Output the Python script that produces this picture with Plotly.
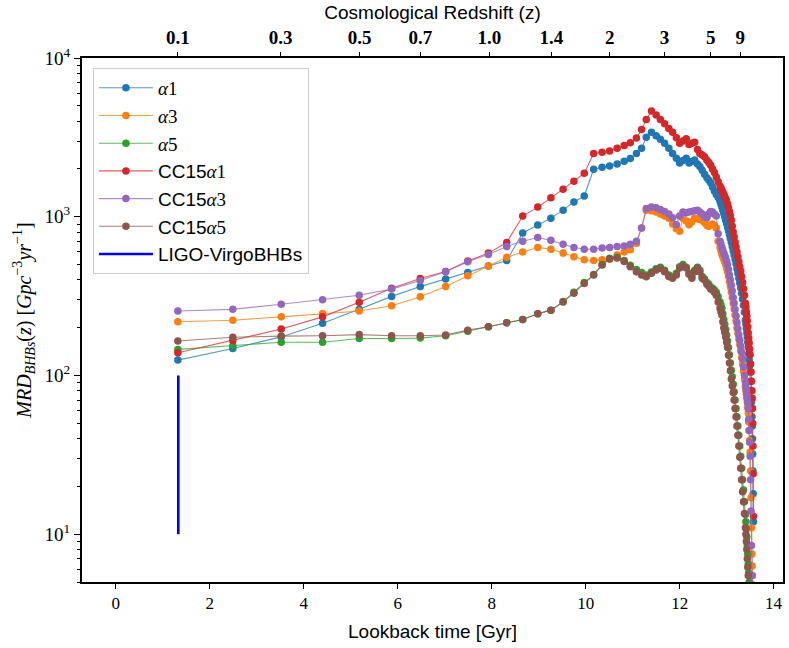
import plotly.graph_objects as go

# Lookback time [Gyr] of each sampled redshift
lookback = [1.32, 2.49, 3.52, 4.40, 5.18, 5.87, 6.48, 7.02, 7.49, 7.93,
            8.32, 8.66, 8.98, 9.26, 9.52, 9.75, 9.97, 10.17, 10.35, 10.51,
            10.67, 10.82, 10.95, 11.08, 11.19, 11.29, 11.40, 11.50, 11.59, 11.68,
            11.77, 11.85, 11.93, 12.00, 12.07, 12.14, 12.20, 12.26, 12.32, 12.38,
            12.43, 12.48, 12.53, 12.58, 12.62, 12.66, 12.70, 12.74, 12.78, 12.82,
            12.86, 12.88, 12.90, 12.92, 12.94, 12.96, 12.98, 13.00, 13.02, 13.04,
            13.06, 13.08, 13.10, 13.12, 13.14, 13.16, 13.18, 13.20, 13.22, 13.24,
            13.26, 13.28, 13.30, 13.32, 13.34, 13.36, 13.38, 13.40, 13.41, 13.42,
            13.43, 13.44, 13.45, 13.46, 13.47, 13.48, 13.49, 13.50, 13.51, 13.52,
            13.53, 13.54, 13.545, 13.55, 13.555, 13.56, 13.565, 13.57]

alpha1 = [125, 148, 175, 213, 261, 315, 363, 405, 445, 490,
          530, 790, 887, 980, 1100, 1240, 1350, 1990, 2050, 2090,
          2150, 2240, 2330, 2500, 2700, 3170, 3400, 3240, 3080, 2900,
          2700, 2500, 2340, 2180, 2260, 2340, 2180, 2230, 2280, 2150,
          2070, 1960, 1850, 1760, 1700, 1640, 1540, 1450, 1380, 1320,
          1250, 1200, 1150, 1100, 1050, 1000, 950, 905, 860, 815,
          770, 730, 690, 650, 610, 575, 540, 505, 470, 440,
          410, 383, 357, 330, 303, 277, 250, 223, 210, 198,
          186, 175, 162, 150, 137, 125, 115, 105, 92, 80,
          68, 55, 48, 40, 32, 25, 18, 12]

alpha3 = [218, 223, 234, 246, 255, 275, 313, 363, 425, 490,
          555, 600, 640, 625, 590, 560, 535, 530, 535, 540,
          575, 600, 620, 680, 850, 1100, 1090, 1070, 1040, 1010,
          980, 900, 840, 810, 980, 940, 890, 930, 980, 970,
          960, 950, 920, 880, 870, 890, 900, 880, 850, 700,
          640, 610, 580, 560, 540, 520, 500, 475, 450, 420,
          390, 362, 335, 310, 285, 262, 240, 220, 200, 185,
          170, 157, 143, 130, 118, 106, 95, 85, 80, 76,
          72, 68, 63, 58, 51, 45, 39, 33, 25, 17,
          11, 7.5, 6.3, 5.5, 4.8, 4, 3.5, 3]

alpha5 = [146, 154, 162, 162, 171, 171, 172, 178, 190, 203,
          215, 225, 245, 258, 292, 335, 385, 432, 500, 548,
          555, 530, 495, 465, 445, 430, 448, 470, 480, 460,
          430, 415, 440, 485, 500, 480, 440, 420, 460, 480,
          460, 420, 405, 385, 375, 360, 355, 345, 335, 315,
          290, 278, 265, 245, 225, 210, 195, 180, 165, 150,
          135, 120, 108, 98, 88, 79, 70, 62, 55, 48,
          42, 36, 31, 26, 22, 19, 16, 13.3, 12, 10.8,
          9.6, 8.5, 7.5, 6.5, 5.7, 5, 4.4, 3.8, 3.3, 2.9,
          2.6, 2.3, 2.2, 2.1, 2, 1.9, 1.8, 1.7]

cc15_alpha1 = [139, 166, 196, 234, 289, 355, 408, 452, 526, 590,
               688, 1010, 1150, 1315, 1490, 1675, 1880, 2500, 2545, 2595,
               2700, 2810, 2920, 3130, 3540, 4100, 4630, 4370, 4100, 3850,
               3600, 3400, 3150, 2900, 3000, 3100, 2850, 2900, 2950, 2650,
               2500, 2450, 2390, 2270, 2200, 2110, 2000, 1900, 1780, 1660,
               1560, 1515, 1470, 1425, 1380, 1340, 1300, 1250, 1200, 1140,
               1080, 1015, 950, 870, 800, 745, 690, 645, 600, 560,
               520, 485, 455, 420, 385, 352, 320, 285, 270, 252,
               236, 220, 202, 185, 172, 160, 147, 135, 118, 105,
               92, 80, 72, 62, 50, 36, 24, 13]

cc15_alpha3 = [255, 261, 281, 300, 320, 350, 396, 450, 520, 578,
               650, 700, 740, 710, 670, 640, 625, 625, 635, 640,
               650, 655, 670, 700, 850, 1125, 1150, 1140, 1110, 1080,
               1040, 985, 890, 1010, 1070, 1060, 1070, 1080, 1090, 1100,
               1070, 1040, 1000, 985, 1040, 1080, 1070, 1040, 1010, 780,
               700, 670, 640, 615, 590, 570, 550, 525, 500, 465,
               430, 400, 370, 340, 310, 285, 260, 237, 215, 197,
               180, 167, 153, 140, 127, 113, 100, 90, 85, 81,
               76, 72, 67, 62, 53, 45, 38, 31, 22, 14,
               8.5, 5.5, 4.6, 3.8, 3.2, 2.7, 2.3, 2]

cc15_alpha5 = [165, 174, 177, 178, 181, 178, 178, 180, 193, 203,
               215, 225, 245, 258, 290, 330, 380, 429, 496, 543,
               550, 523, 485, 450, 429, 418, 440, 461, 472, 450,
               420, 410, 430, 475, 490, 475, 435, 410, 450, 475,
               450, 410, 400, 375, 365, 350, 345, 335, 320, 290,
               265, 252, 240, 218, 200, 187, 175, 162, 150, 134,
               120, 107, 95, 86, 78, 70, 62, 55, 48, 42,
               36, 30.5, 26, 22, 18.5, 16, 13.5, 11, 10, 9,
               8, 7, 6.2, 5.5, 4.7, 4, 3.5, 3, 2.7, 2.4,
               2.2, 2, 1.9, 1.8, 1.7, 1.6, 1.5, 1.4]

ligo_x = [1.33, 1.33]
ligo_y = [10, 100]

redshift_pos = [1.32, 3.51, 5.19, 6.48, 7.95, 9.27, 10.51, 11.68, 12.66, 13.29]
redshift_labels = ["0.1", "0.3", "0.5", "0.7", "1.0", "1.4", "2", "3", "5", "9"]

x_ticks = [0, 2, 4, 6, 8, 10, 12, 14]
y_ticks = [10, 100, 1000, 10000]
y_ticktext = ["10<sup>1</sup>", "10<sup>2</sup>", "10<sup>3</sup>", "10<sup>4</sup>"]
y_minor = [m * 10 ** k for k in range(0, 4) for m in range(2, 10)]

SERIF = "Liberation Serif"
SANS = "Liberation Sans"

def greek(label):
    return f'<span style="font-family:{SERIF}"><i>α</i>{label}</span>'

series = [
    (greek("1"), alpha1, (31, 119, 180)),
    (greek("3"), alpha3, (255, 127, 14)),
    (greek("5"), alpha5, (44, 160, 44)),
    ("CC15" + greek("1"), cc15_alpha1, (214, 39, 40)),
    ("CC15" + greek("3"), cc15_alpha3, (148, 103, 189)),
    ("CC15" + greek("5"), cc15_alpha5, (140, 86, 75)),
]

fig = go.Figure()
for name, vals, (r, g, b) in series:
    fig.add_trace(go.Scatter(
        x=lookback, y=vals, name=name, mode="lines+markers",
        line=dict(color=f"rgba({r},{g},{b},0.75)", width=1.1),
        marker=dict(color=f"rgb({r},{g},{b})", size=7.5, line=dict(width=0)),
    ))

fig.add_trace(go.Scatter(
    x=ligo_x, y=ligo_y, name="LIGO-VirgoBHBs", mode="lines",
    line=dict(color="#0000ff", width=2.6),
))

# invisible trace so the top (redshift) axis is drawn
fig.add_trace(go.Scatter(
    x=ligo_x, y=ligo_y, xaxis="x2", yaxis="y", mode="markers",
    marker=dict(opacity=0), showlegend=False, hoverinfo="skip",
))

fig.update_layout(
    width=789, height=648,
    margin=dict(l=82, r=4, t=58, b=66),
    plot_bgcolor="white", paper_bgcolor="white",
    font=dict(family=SERIF, color="black"),
    legend=dict(
        x=0.0156, y=0.981, xanchor="left", yanchor="top",
        bgcolor="rgba(255,255,255,0.85)", bordercolor="#cccccc", borderwidth=1,
        font=dict(family=SANS, size=19, color="black"), itemwidth=54,
    ),
    xaxis=dict(
        range=[-0.72, 14.2], tickmode="array", tickvals=x_ticks,
        ticks="outside", ticklen=5, tickwidth=1.2, tickcolor="black",
        showline=True, linewidth=2, linecolor="black", mirror=True,
        showgrid=False, zeroline=False,
        tickfont=dict(family=SERIF, size=17, color="black"),
        title=dict(text="Lookback time [Gyr]", font=dict(family=SANS, size=19, color="black"), standoff=12),
    ),
    xaxis2=dict(
        overlaying="x", side="top", anchor="y",
        range=[-0.72, 14.2], tickmode="array", tickvals=redshift_pos, ticktext=redshift_labels,
        ticks="outside", ticklen=5, tickwidth=1.2, tickcolor="black",
        showline=False, showgrid=False, zeroline=False,
        tickfont=dict(family=SERIF, size=19, color="black", weight="bold"),
        title=dict(text="Cosmological Redshift (z)", font=dict(family=SANS, size=19, color="black"), standoff=2),
    ),
    yaxis=dict(
        type="log", range=[0.699, 4], tickmode="array", tickvals=y_ticks, ticktext=y_ticktext,
        ticks="outside", ticklen=6, tickwidth=1.2, tickcolor="black",
        showline=True, linewidth=2, linecolor="black", mirror=True,
        showgrid=False, zeroline=False,
        tickfont=dict(family=SERIF, size=19, color="black"),
        minor=dict(tickmode="array", tickvals=y_minor, ticks="outside", ticklen=3,
                   tickwidth=1, tickcolor="black", showgrid=False),
        title=dict(
            text="<i>MRD</i><sub><i>BHBs</i></sub>(<i>z</i>) [<i>Gpc</i><sup>−3</sup><i>yr</i><sup>−1</sup>]",
            font=dict(family=SERIF, size=20, color="black"), standoff=8),
    ),
)

fig.write_html("out.html")
